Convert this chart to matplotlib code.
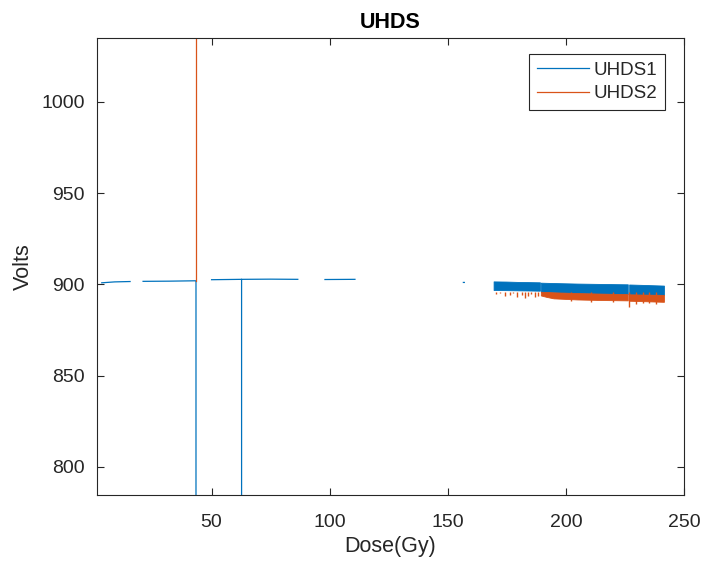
import matplotlib
matplotlib.use('Agg')
import matplotlib.pyplot as plt
import numpy as np

nan = np.nan

# UHDS1: sparse segments near 902 V with two dropouts, then a dense band
uhds1_x = [3.5, 9.0, 15.5, nan, 21.0, 32.0, 42.8, 43.4, 43.4, nan,
           50.0, 62.6, 62.7, 62.7, nan, 62.8, 75.0, 86.5, nan,
           98.0, 110.7, nan, 156.6, 157.0]
uhds1_y = [900.8, 901.3, 901.5, nan, 901.6, 901.7, 901.9, 901.9, 700.0, nan,
           902.5, 902.7, 902.7, 700.0, nan, 902.7, 902.8, 902.7, nan,
           902.6, 902.7, nan, 901.0, 901.0]

# UHDS1 dense band envelope (min/max of the noisy signal)
band1_x = [169.6, 175.0, 180.0, 185.0, 189.2, nan,
           189.6, 192.0, 195.0, 205.0, 215.0, 226.4, nan,
           227.0, 232.0, 237.0, 241.7]
band1_hi = [901.3, 901.2, 901.0, 900.9, 900.8, nan,
            900.6, 900.5, 900.4, 900.1, 899.9, 899.7, nan,
            899.6, 899.4, 899.2, 899.0]
band1_lo = [896.6, 896.5, 896.4, 896.3, 896.2, nan,
            895.6, 895.5, 895.3, 894.9, 894.6, 894.3, nan,
            894.2, 894.1, 894.0, 893.9]

# UHDS2: single upward spike, then a band below UHDS1 (same x as band1 from 189.6)
uhds2_x = [43.2, 43.4, 43.4]
uhds2_y = [901.9, 901.9, 1100.0]

band2_lo = [893.6, 892.8, 892.0, 891.4, 891.1, 890.9, nan,
            890.7, 890.5, 890.3, 890.1]

# UHDS2 dips visible below the blue band / orange band
dip2_x = [170.6, 172.0, 174.2, 176.3, 177.5, 179.1, 181.2, 182.6, 183.8,
          185.4, 186.8, 188.2, 202.3, 210.5, 220.0, 226.8, 229.5, 232.6,
          235.0, 238.2]
dip2_y = [894.6, 895.0, 893.8, 894.2, 895.1, 893.2, 894.0, 892.6, 893.5,
          894.4, 893.0, 893.7, 890.8, 890.5, 890.2, 887.7, 889.4, 889.7,
          889.5, 889.3]

blue = '#0072BD'
orange = '#D95319'
axcol = '#262626'

plt.rcParams['font.family'] = ['Liberation Sans', 'DejaVu Sans']

fig = plt.figure(figsize=(7.03, 5.66), dpi=100)
ax = fig.add_axes([0.138, 0.1254, 0.835, 0.8076])

ax.plot(uhds1_x, uhds1_y, color=blue, lw=0.9, label='UHDS1')
ax.plot(uhds2_x, uhds2_y, color=orange, lw=0.9, label='UHDS2')

# dense bands
ax.fill_between(band1_x, band1_lo, band1_hi, color=blue, lw=0.6, edgecolor=blue)
ax.fill_between(band1_x[6:], band2_lo, band1_lo[6:], color=orange, lw=0.6,
                edgecolor=orange)
ax.vlines(dip2_x, dip2_y, 895.5, color=orange, lw=1.0, zorder=1)

ax.set_xlim(1.5, 250)
ax.set_ylim(784.5, 1035)
ax.set_xticks([50, 100, 150, 200, 250])
ax.set_yticks([800, 850, 900, 950, 1000])

ax.tick_params(direction='in', top=True, right=True, length=5, width=0.8,
               colors=axcol, labelsize=14, labelcolor=axcol)
ax.tick_params(axis='y', pad=9)
ax.tick_params(axis='x', pad=14)
for s in ax.spines.values():
    s.set_color(axcol)
    s.set_linewidth(0.8)

ax.set_title('UHDS', fontsize=15.5, fontweight='bold', color='black', pad=7)
ax.set_xlabel('Dose(Gy)', fontsize=15.5, color=axcol, labelpad=3)
ax.set_ylabel('Volts', fontsize=15.5, color=axcol, labelpad=5)

leg = ax.legend(loc='upper right', fontsize=13.5, handlelength=2.8,
                handletextpad=0.25, borderpad=0.4, labelspacing=0.35,
                borderaxespad=0, fancybox=False, framealpha=1,
                bbox_to_anchor=(0.968, 0.965))
leg.get_frame().set_edgecolor(axcol)
leg.get_frame().set_linewidth(0.8)
for t in leg.get_texts():
    t.set_color(axcol)

fig.savefig('out.png', dpi=100)
